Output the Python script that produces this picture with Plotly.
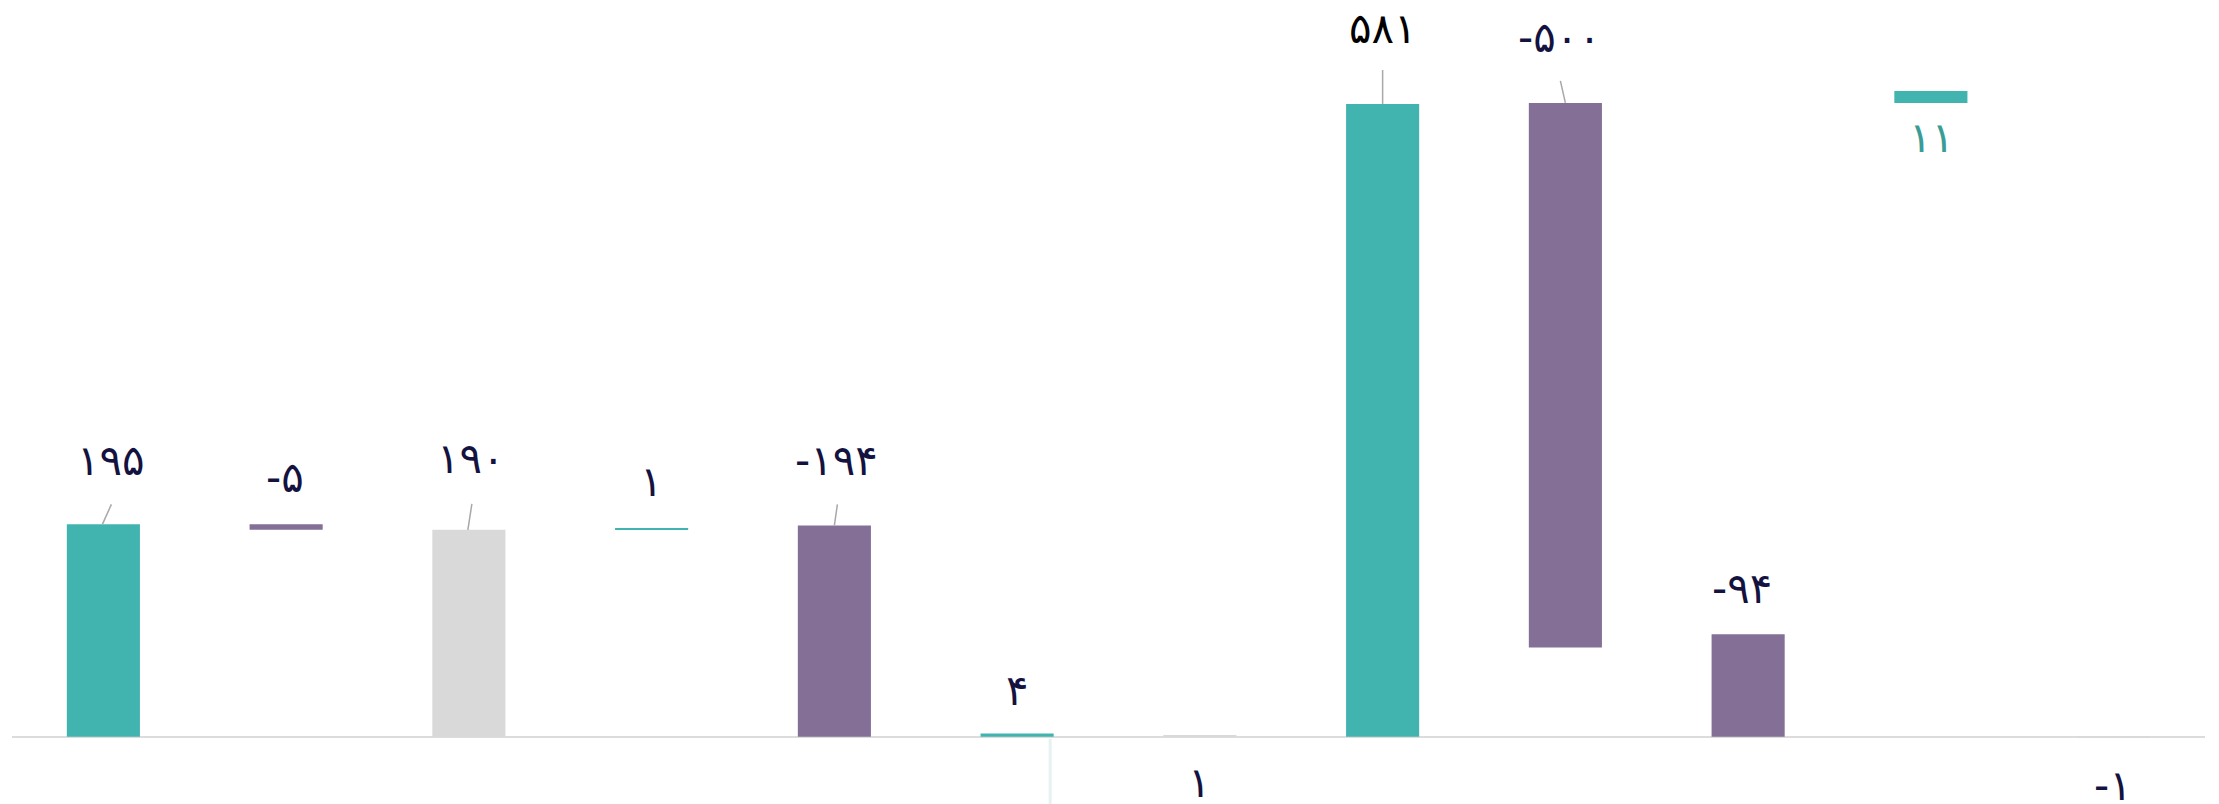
import plotly.graph_objects as go

# ---- data ----
steps = list(range(12))
values = [195, -5, 190, 1, -194, 4, 1, 581, -500, -94, 11, -1]
kinds = ["inc", "dec", "total", "inc", "dec", "inc", "total", "inc", "dec", "dec", "inc", "total"]
bar_base = [0, 190, 0, 190, 0, 0, 0, 0, 82, 0, 582, -1]
bar_size = [195, 5, 190, 1, 194, 3, 1, 581, 500, 94, 11, 1]

# ---- styles ----
KIND_COLOR = {"inc": "#42b4b0", "dec": "#846f96", "total": "#d9d9d9"}
NAVY = "#14123f"
label_color = [NAVY] * 12
label_color[7] = "#000000"
label_color[10] = "#3a9c96"
# label offsets (pixels) from the top centre of each bar
label_dx = [8, -1, 2, 0, 2, 0, 0, 0, -6, -6, 1, -1]
label_dy = [64, 47, 71, 47, 65, 43, -47, 76, 65, 46, -47, -49]
# leader lines: index -> (x_bottom, x_top, y_top) in pixels from bar top centre
leaders = {0: (-1, 8, 20), 2: (-1, 3, 26), 4: (0, 3, 21), 7: (0, 0, 34), 8: (0, -5, 22)}

FA_DIGITS = str.maketrans("0123456789", "۰۱۲۳۴۵۶۷۸۹")


def fa(n):
    return str(n).translate(FA_DIGITS)


fig = go.Figure()
fig.add_trace(go.Bar(
    x=steps,
    y=bar_size,
    base=bar_base,
    width=0.4,
    marker=dict(color=[KIND_COLOR[k] for k in kinds], line=dict(width=0)),
    hoverinfo="skip",
    showlegend=False,
))

annotations = []
for i, v in enumerate(values):
    annotations.append(dict(
        x=steps[i], y=bar_base[i] + bar_size[i], xref="x", yref="y",
        text=fa(v), showarrow=False,
        xshift=label_dx[i], yshift=label_dy[i],
        font=dict(family="DejaVu Sans", size=42, color=label_color[i]),
    ))

shapes = []
for i, (xb, xt, yt) in leaders.items():
    shapes.append(dict(
        type="line", xref="x", yref="y",
        xsizemode="pixel", xanchor=steps[i], x0=xb, x1=xt,
        ysizemode="pixel", yanchor=bar_base[i] + bar_size[i], y0=0, y1=yt,
        line=dict(color="#a8a8a8", width=1.5),
    ))
# faint vertical trace below the small "4" step
shapes.append(dict(
    type="line", xref="x", yref="y",
    xsizemode="pixel", xanchor=steps[5], x0=33, x1=33,
    ysizemode="pixel", yanchor=0, y0=-2, y1=-70,
    line=dict(color="#e6f1f1", width=3),
))

fig.update_layout(
    width=2211, height=796,
    margin=dict(l=4, r=13.5, t=0, b=0),
    paper_bgcolor="white", plot_bgcolor="white",
    bargap=0.6,
    xaxis=dict(range=[-0.5, 11.5], visible=False, showgrid=False, zeroline=False),
    yaxis=dict(range=[-61.8, 669.2], showgrid=False, showticklabels=False,
               zeroline=True, zerolinecolor="#dcdcdc", zerolinewidth=2, ticks=""),
    annotations=annotations,
    shapes=shapes,
)

fig.write_html("out.html")
